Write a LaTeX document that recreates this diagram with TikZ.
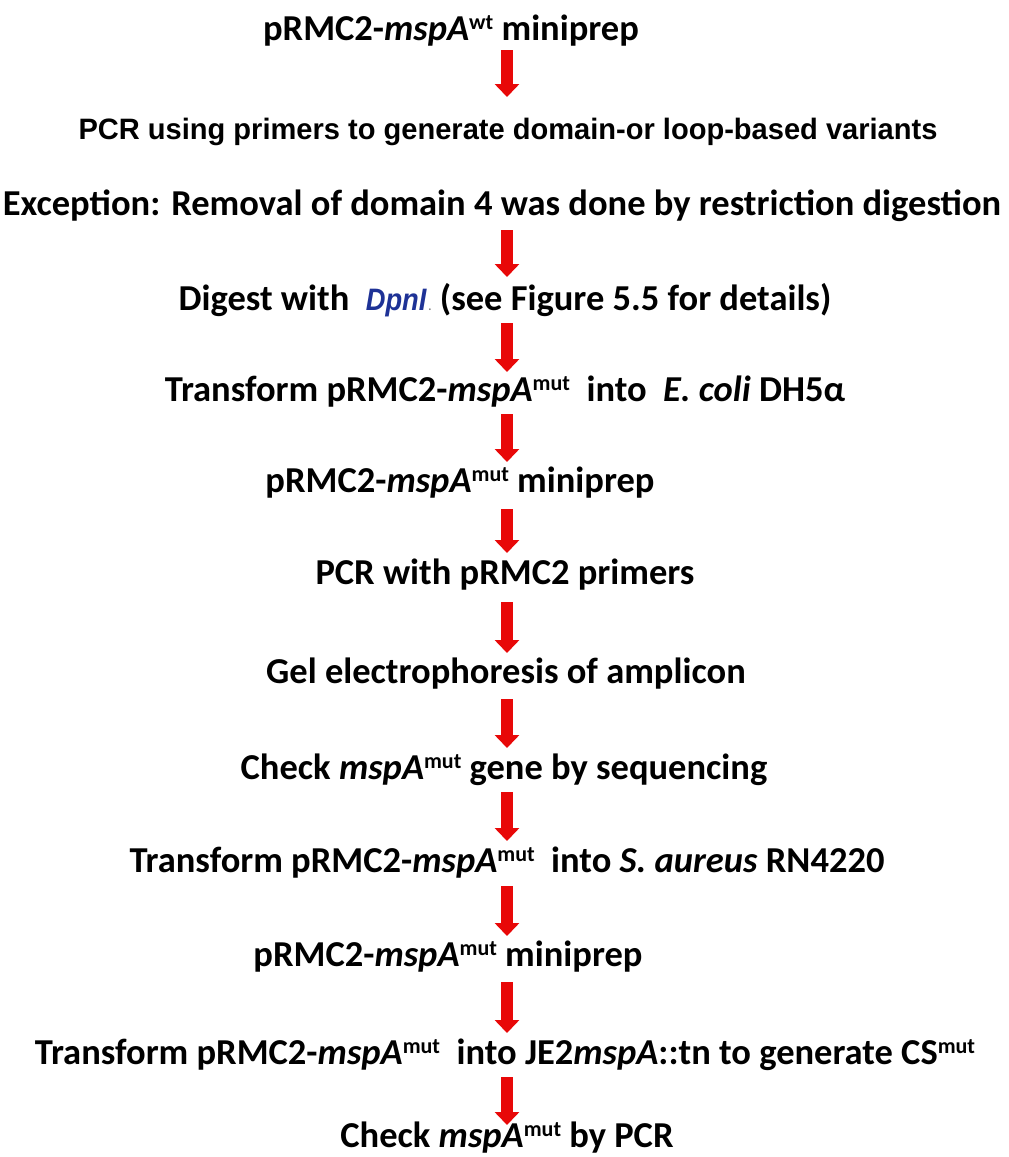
\documentclass[tikz,border=0pt]{standalone}
\usepackage{fontspec}
\setmainfont{Carlito}
\newfontfamily\arialn[FakeStretch=0.985]{Liberation Sans}
\newfontfamily\arialf[FakeStretch=0.88]{Liberation Sans}
\usetikzlibrary{arrows.meta}
\definecolor{arrowred}{RGB}{232,8,8}
\definecolor{dpnblue}{RGB}{30,50,150}
\newcommand{\hi}[1]{\raisebox{0.62ex}{\fontsize{22}{22}\selectfont #1}}

\begin{document}
\begin{tikzpicture}[x=1pt, y=-1pt,
	stepnode/.style={font=\bfseries\fontsize{36.5}{40}\selectfont, inner sep=0pt, anchor=base},
	bigarrow/.style={arrowred, line width=12pt, -{Triangle[width=24pt,length=13pt]}}]
	\useasboundingbox (0,0) rectangle (1009,1157);
	\coordinate (ax) at (507,0);

	\node[stepnode] (n1) at (451,40) {pRMC2-\textit{mspA}\hi{wt} miniprep};
	\node[stepnode, font=\arialn\bfseries\fontsize{29.5}{32}\selectfont] (n2) at (508,139) {PCR using primers to generate domain-or loop-based variants};
	\node[stepnode] (n3) at (502,215) {Exception: Removal of domain 4 was done by restriction digestion};
	\node[stepnode] (n4) at (505,310) {Digest with \ {\arialf\itshape\fontsize{31}{32}\selectfont\color{dpnblue}DpnI}{\fontsize{12}{12}\selectfont\color{gray}\,.} (see Figure 5.5 for details)};
	\node[stepnode] (n5) at (505,401) {Transform pRMC2-\textit{mspA}\hi{mut}\ \ into \ \textit{E. coli} DH5α};
	\node[stepnode] (n6) at (460,492) {pRMC2-\textit{mspA}\hi{mut} miniprep};
	\node[stepnode] (n7) at (505,584) {PCR with pRMC2 primers};
	\node[stepnode] (n8) at (506,683) {Gel electrophoresis of amplicon};
	\node[stepnode] (n9) at (504,779) {Check \textit{mspA}\hi{mut} gene by sequencing};
	\node[stepnode] (n10) at (507,872) {Transform pRMC2-\textit{mspA}\hi{mut}\ \ into \textit{S. aureus} RN4220};
	\node[stepnode] (n11) at (448,966) {pRMC2-\textit{mspA}\hi{mut} miniprep};
	\node[stepnode] (n12) at (505,1064) {Transform pRMC2-\textit{mspA}\hi{mut}\ \ into JE2\textit{mspA}::tn to generate CS\hi{mut}};
	\node[stepnode] (n13) at (507,1147) {Check \textit{mspA}\hi{mut} by PCR};

	% red arrows between the steps
	\foreach \a/\b/\s/\e in {n1/n2/10/42, n3/n4/15/33, n4/n5/13/29, n5/n6/13/30,
		n6/n7/17/31, n7/n8/18/30, n8/n9/16/31, n9/n10/13/31, n10/n11/14/30,
		n11/n12/16/31, n12/n13/13/22}
		\draw[bigarrow, shorten <=\s pt, shorten >=\e pt] (\a.base -| ax) -- (\b.base -| ax);
\end{tikzpicture}
\end{document}
